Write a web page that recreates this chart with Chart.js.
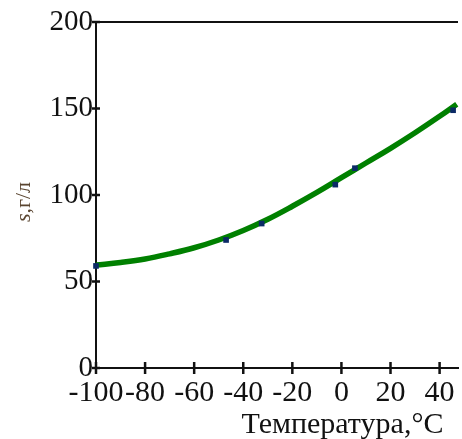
<!DOCTYPE html>
<html>
<head>
<meta charset="utf-8">
<script src="https://cdn.jsdelivr.net/npm/chart.js@4"></script>
<style>
html,body{margin:0;padding:0;background:#fff;}
#wrap{width:462px;height:439px;}
</style>
</head>
<body>
<div id="wrap"><canvas id="c" width="462" height="439"></canvas></div>
<script>
// Fitted curve
const curveT = [-100, -90, -80, -70, -60, -50, -40, -30, -20, -10, 0, 10, 20, 30, 40, 47];
const curveS = [59.5, 61, 63, 66, 69.5, 74, 79.5, 86, 93.5, 101.5, 110, 118.5, 127, 136, 145.5, 152.5];
// Measured points
const pointT = [-100, -47, -32.5, -2.5, 5.5, 45.5];
const pointS = [59, 74, 83.5, 106, 115.5, 149];
// Tick labels
const xTicks = [-100, -80, -60, -40, -20, 0, 20, 40];
const yTicks = [0, 50, 100, 150, 200];
const xTitle = 'Температура,°C';
const yTitleItalic = 's';
const yTitleRest = ',г/л';

const SERIF = '"Liberation Serif", "Times New Roman", serif';

const decor = {
  id: 'decor',
  afterDraw(chart) {
    const ctx = chart.ctx;
    const a = chart.chartArea;
    const xs = chart.scales.x, ys = chart.scales.y;
    ctx.save();
    ctx.strokeStyle = '#111';
    ctx.lineWidth = 2;
    // top border
    ctx.beginPath();
    ctx.moveTo(a.left, a.top);
    ctx.lineTo(a.right, a.top);
    ctx.stroke();
    // y tick marks crossing axis
    ctx.lineWidth = 2.5;
    yTicks.forEach(v => {
      const y = ys.getPixelForValue(v);
      ctx.beginPath();
      ctx.moveTo(a.left - 4, y);
      ctx.lineTo(a.left + 4, y);
      ctx.stroke();
    });
    // x tick marks crossing axis
    xTicks.forEach(v => {
      const x = xs.getPixelForValue(v);
      ctx.beginPath();
      ctx.moveTo(x, a.bottom - 6);
      ctx.lineTo(x, a.bottom + 6);
      ctx.stroke();
    });
    // x title
    ctx.fillStyle = '#111';
    ctx.font = '30px ' + SERIF;
    ctx.textAlign = 'center';
    ctx.textBaseline = 'alphabetic';
    ctx.fillText(xTitle, xs.getPixelForValue(0) + 1, 433);
    // y title rotated
    ctx.translate(30, 202);
    ctx.rotate(-Math.PI / 2);
    ctx.fillStyle = '#5a4530';
    ctx.font = 'italic 22px ' + SERIF;
    const w1 = ctx.measureText(yTitleItalic).width;
    ctx.font = '22px ' + SERIF;
    const w2 = ctx.measureText(yTitleRest).width;
    const start = -(w1 + w2) / 2;
    ctx.textAlign = 'left';
    ctx.font = 'italic 22px ' + SERIF;
    ctx.fillText(yTitleItalic, start, 0);
    ctx.font = '22px ' + SERIF;
    ctx.fillText(yTitleRest, start + w1, 0);
    ctx.restore();
  }
};

new Chart(document.getElementById('c'), {
  type: 'scatter',
  data: {
    datasets: [
      {
        label: 'fit',
        data: curveT.map((t, i) => ({x: t, y: curveS[i]})),
        showLine: true,
        borderColor: '#008000',
        borderWidth: 5.5,
        pointRadius: 0,
        tension: 0.4,
        order: 2
      },
      {
        label: 'data',
        data: pointT.map((t, i) => ({x: t, y: pointS[i]})),
        showLine: false,
        pointStyle: 'rect',
        pointRadius: 4,
        backgroundColor: '#0b2a66',
        borderColor: '#0b2a66',
        borderWidth: 0,
        order: 1
      }
    ]
  },
  options: {
    responsive: false,
    animation: false,
    clip: false,
    layout: {padding: {top: 22, right: 0, left: 0, bottom: 0}},
    plugins: {legend: {display: false}, tooltip: {enabled: false}},
    scales: {
      x: {
        type: 'linear',
        min: -100,
        max: 47.5,
        afterBuildTicks(scale) { scale.ticks = xTicks.map(v => ({value: v})); },
        afterFit(scale) { scale.height = 71; },
        grid: {display: false, drawTicks: false},
        border: {display: true, color: '#111', width: 2},
        ticks: {
          color: '#111',
          font: {family: SERIF, size: 30},
          padding: 7,
          maxRotation: 0,
          autoSkip: false
        }
      },
      y: {
        type: 'linear',
        min: 0,
        max: 200,
        afterBuildTicks(scale) { scale.ticks = yTicks.map(v => ({value: v})); },
        afterFit(scale) { scale.width = 96; },
        grid: {display: false, drawTicks: false},
        border: {display: true, color: '#111', width: 2},
        ticks: {
          color: '#111',
          font: {family: SERIF, size: 29},
          padding: 3
        }
      }
    }
  },
  plugins: [decor]
});
</script>
</body>
</html>
